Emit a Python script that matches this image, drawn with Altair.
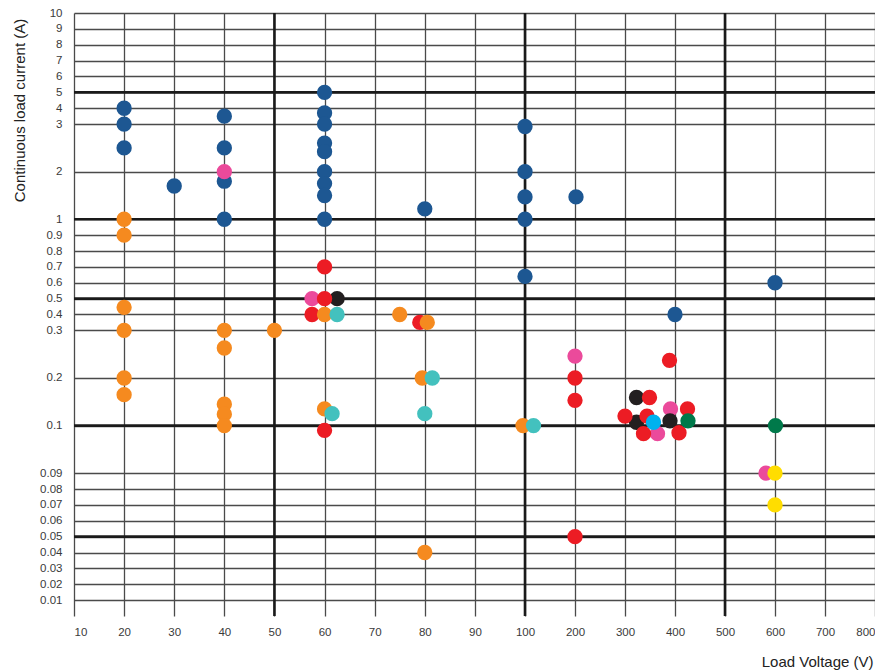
import altair as alt
import pandas as pd

# ---------------- data ----------------
blue_v = [20, 20, 20, 30, 40, 40, 40, 40, 60, 60, 60, 60, 60, 60, 60, 60, 60, 80, 100, 100, 100, 100, 100, 202, 400, 600]
blue_a = [4, 3, 2.5, 1.7, 3.5, 2.5, 1.8, 1, 5, 3.7, 3, 2.6, 2.42, 2, 1.75, 1.5, 1, 1.22, 2.95, 2, 1.47, 1, 0.64, 1.47, 0.4, 0.6]

pink_v = [57.5, 40, 200, 391, 365, 582]
pink_a = [0.5, 2, 0.246, 0.135, 0.0983, 0.09]

black_v = [62.5, 323, 323, 390]
black_a = [0.5, 0.159, 0.107, 0.11]

red_v = [60, 60, 57.5, 79, 60, 200, 200, 200, 389, 349, 300, 344, 425, 337, 408]
red_a = [0.7, 0.5, 0.4, 0.35, 0.099, 0.2, 0.153, 0.05, 0.237, 0.159, 0.12, 0.12, 0.135, 0.0983, 0.0985]

orange_v = [20, 20, 20, 20, 20, 20, 40, 40, 40, 40, 40, 50, 60, 60, 75, 80.5, 79.5, 99.6, 80]
orange_a = [1, 0.9, 0.445, 0.3, 0.2, 0.165, 0.3, 0.263, 0.145, 0.124, 0.1, 0.3, 0.4, 0.135, 0.4, 0.35, 0.2, 0.1, 0.04]

teal_v = [62.5, 61.5, 81.5, 80, 117]
teal_a = [0.4, 0.125, 0.2, 0.125, 0.1]

lightblue_v = [357]
lightblue_a = [0.107]

green_v = [426, 601]
green_a = [0.11, 0.1]

yellow_v = [600, 600]
yellow_a = [0.09, 0.07]

group_names = ["blue", "pink", "black", "red", "orange", "teal", "lightblue", "green", "yellow"]
group_colors = ["#1d5792", "#eb4a9b", "#231f20", "#ec1c24", "#f58a1f", "#43c1be", "#00b2ef", "#00794a", "#ffdd00"]

x_ticks = [10, 20, 30, 40, 50, 60, 70, 80, 90, 100, 200, 300, 400, 500, 600, 700, 800]
y_ticks = [0.01, 0.02, 0.03, 0.04, 0.05, 0.06, 0.07, 0.08, 0.09,
           0.1, 0.2, 0.3, 0.4, 0.5, 0.6, 0.7, 0.8, 0.9,
           1, 2, 3, 4, 5, 6, 7, 8, 9, 10]
major_x = [50, 100, 500]
major_y = [0.05, 0.1, 0.5, 1, 5]

# ---------------- table ----------------
series = [blue_v, pink_v, black_v, red_v, orange_v, teal_v, lightblue_v, green_v, yellow_v]
amps = [blue_a, pink_a, black_a, red_a, orange_a, teal_a, lightblue_a, green_a, yellow_a]
rows = []
for name, vs, as_ in zip(group_names, series, amps):
    for v, a in zip(vs, as_):
        rows.append({"voltage": v, "current": a, "group": name})
df = pd.DataFrame(rows)

# ---------------- scales (piecewise, like the reference grid) ----------------
W = 801
H = 603
u = H / 38.0
xscale = alt.Scale(domain=[10, 100, 800], range=[0, 451, W], nice=False, zero=False)
yscale = alt.Scale(domain=[0, 0.09, 0.1, 0.3, 1, 3, 10],
                   range=[H, H - 9 * u, H - 12 * u, H - 18 * u, H - 25 * u, H - 31 * u, 0],
                   nice=False, zero=False)

FONT = "Liberation Sans"
LABEL = "'' + datum.value"
x_axis = alt.Axis(values=x_ticks, labelExpr=LABEL, grid=True, gridColor="#4a4a4a", gridWidth=1.3,
                  ticks=False, domain=False, labelFont=FONT, labelFontSize=11.5,
                  labelColor="#3a3a3a", labelPadding=10, labelFlush=False,
                  labelAlign=alt.expr("datum.value == 10 ? 'left' : (datum.value == 800 ? 'right' : 'center')"),
                  title="Load Voltage (V)", titleFont=FONT, titleFontSize=15,
                  titleFontWeight="normal", titleColor="#222222", titleAnchor="end",
                  titleAlign="right", titleX=W - 2, titleY=50, titleBaseline="alphabetic")
y_axis = alt.Axis(values=y_ticks, labelExpr=LABEL, grid=True, gridColor="#4a4a4a", gridWidth=1.3,
                  ticks=False, domain=False, labelFont=FONT, labelFontSize=11.5,
                  labelColor="#3a3a3a", labelPadding=12, labelFlush=False,
                  title="Continuous load current (A)", titleFont=FONT, titleFontSize=15,
                  titleFontWeight="normal", titleColor="#222222", titleAngle=270,
                  titleAlign="center", titleBaseline="middle", titleX=-55, titleY=97)

hthick = alt.Chart(pd.DataFrame({"current": major_y})).mark_rule(
    color="#1a1a1a", strokeWidth=2.6
).encode(y=alt.Y("current:Q", scale=yscale, axis=y_axis))

vthick = alt.Chart(pd.DataFrame({"voltage": major_x})).mark_rule(
    color="#1a1a1a", strokeWidth=2.6
).encode(x=alt.X("voltage:Q", scale=xscale, axis=x_axis))

points = alt.Chart(df).mark_circle(size=235, opacity=1).encode(
    x=alt.X("voltage:Q", scale=xscale, axis=x_axis),
    y=alt.Y("current:Q", scale=yscale, axis=y_axis),
    color=alt.Color("group:N", scale=alt.Scale(domain=group_names, range=group_colors), legend=None),
)

chart = alt.layer(hthick, vthick, points).properties(
    width=W, height=H,
    autosize="none",
    padding={"left": 66, "top": 5, "right": 0, "bottom": 56},
    background="white",
).configure_view(stroke=None)

chart.save("out.html", embed_options={"renderer": "svg", "actions": False})
